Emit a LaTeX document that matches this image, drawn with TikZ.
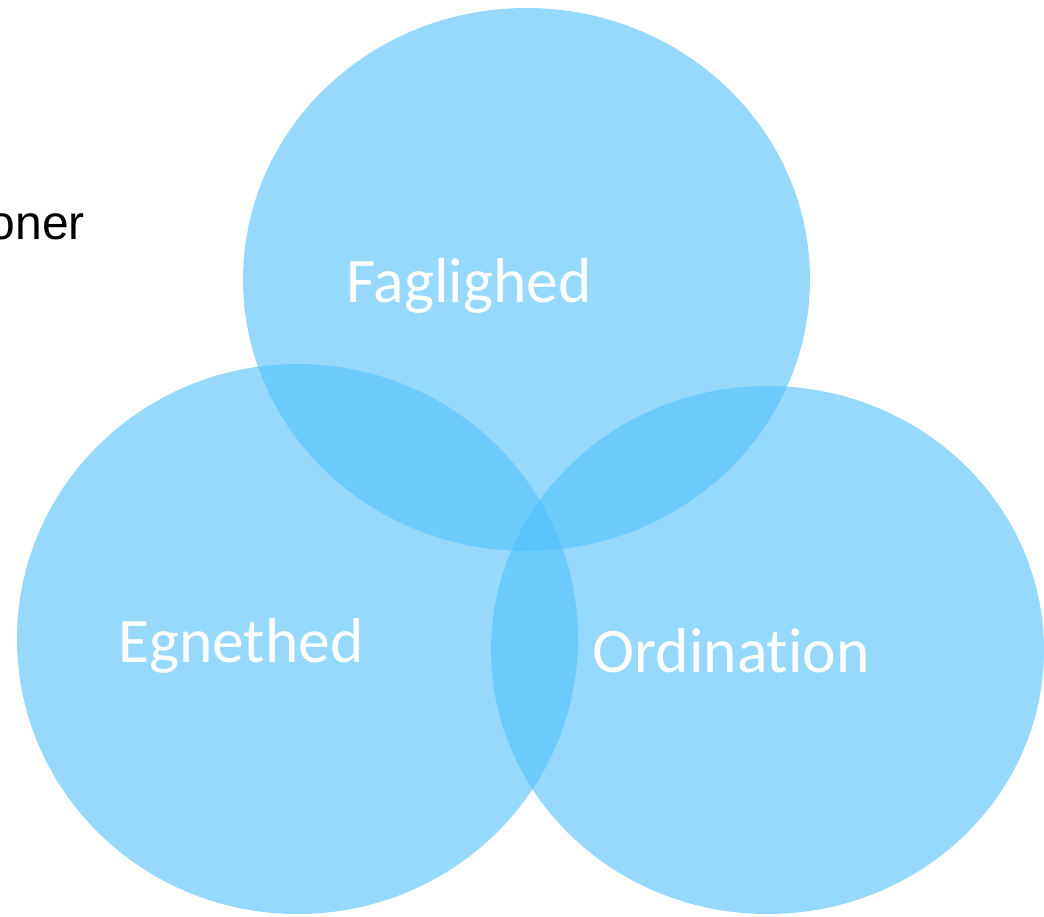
\documentclass[tikz,border=0pt]{standalone}
\usepackage{fontspec}
\setmainfont[Ligatures=NoCommon]{Carlito}
\newfontfamily\arialfont{Liberation Sans}
\definecolor{circblue}{RGB}{82,192,253}
\begin{document}
\begin{tikzpicture}[x=1pt,y=-1pt,
  circ/.style={fill=circblue,fill opacity=0.6},
  lab/.style={text=white,font=\fontsize{63.5}{70}\selectfont,anchor=base,inner sep=0pt}]
\useasboundingbox (0,0) rectangle (1044,916);
\fill[white] (0,0) rectangle (1044,916);
\coordinate (ctop) at (526.5,279.5);
\coordinate (cleft) at (297.5,639);
\coordinate (cright) at (767.5,650);
\fill[circ] (ctop) ellipse [x radius=283.5, y radius=271.5];
\fill[circ] (cleft) ellipse [x radius=280.5, y radius=275];
\fill[circ] (cright) ellipse [x radius=276.5, y radius=264];
\node[anchor=base east,inner sep=0pt,font=\arialfont\fontsize{48}{54}\selectfont] (oner) at (85,239) {oner};
\node[lab] (fag) at (469,302) {Faglighed};
\node[lab] (egn) at (241,662) {Egnethed};
\node[lab] (ord) at (731,672) {Ordination};
\end{tikzpicture}
\end{document}
